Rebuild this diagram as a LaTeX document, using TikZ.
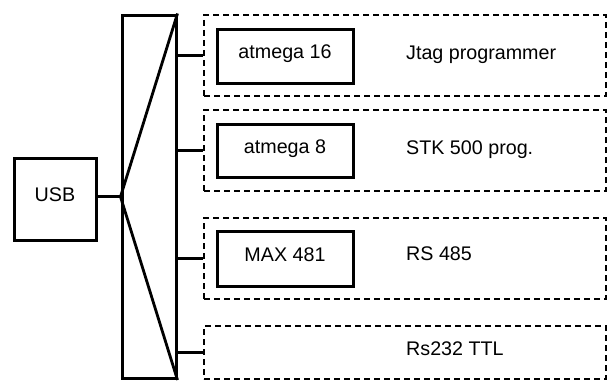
\documentclass[tikz,border=0pt]{standalone}
\usepackage{fontspec}
\setmainfont{Liberation Sans}
\usetikzlibrary{positioning, calc}

\begin{document}
\begin{tikzpicture}[
            x=1pt, y=-1pt,
            block/.style={draw, line width=3pt, inner sep=0pt, font=\fontsize{19.7}{22}\selectfont, text height=14pt, text depth=9pt},
            group/.style={draw, line width=2.8pt, dash pattern=on 6pt off 4pt, minimum width=402pt, inner sep=0pt},
            txt/.style={anchor=base west, inner sep=0pt, font=\fontsize{19.7}{22}\selectfont},
            wire/.style={line width=2.8pt}
        ]
            \useasboundingbox (0,0) rectangle (609,380);
            \node[block, minimum width=82pt, minimum height=82pt] (usb) at (55,199) {USB};
            \node[draw, line width=3pt, minimum width=54pt, minimum height=363.5pt] (mux) at (149,196.75) {};
            
            \node[group, minimum height=81pt] (jtag) at (405,55.5) {};
            \node[group, minimum height=81pt] (stk) at (405,150.5) {};
            \node[group, minimum height=81pt] (rs485) at (405,258.5) {};
            \node[group, minimum height=53pt] (ttl) at (405,352.5) {};
            
            \node[block, minimum width=136pt, minimum height=54pt] (m16) at (285,56) {atmega 16};
            \node[block, minimum width=136pt, minimum height=53pt] (m8) at (285,150.5) {atmega 8};
            \node[block, minimum width=136pt, minimum height=55pt] (max) at (285,258.5) {MAX 481};
            
            \node[txt] (jtaglbl) at (406,59) {Jtag programmer};
            \node[txt] (stklbl) at (406,154) {STK 500 prog.};
            \node[txt] (rslbl) at (406,260) {RS 485};
            \node[txt] (ttllbl) at (406,355) {Rs232 TTL};
            
            \draw [wire] (mux.west -| usb.east) -- (mux.west);
            \draw [wire] (mux.north east) -- (mux.west) -- (mux.south east);
            \foreach \g in {jtag, stk, rs485, ttl}
                \draw [wire] (mux.east |- \g.west) -- (\g.west);
        \end{tikzpicture}
\end{document}
